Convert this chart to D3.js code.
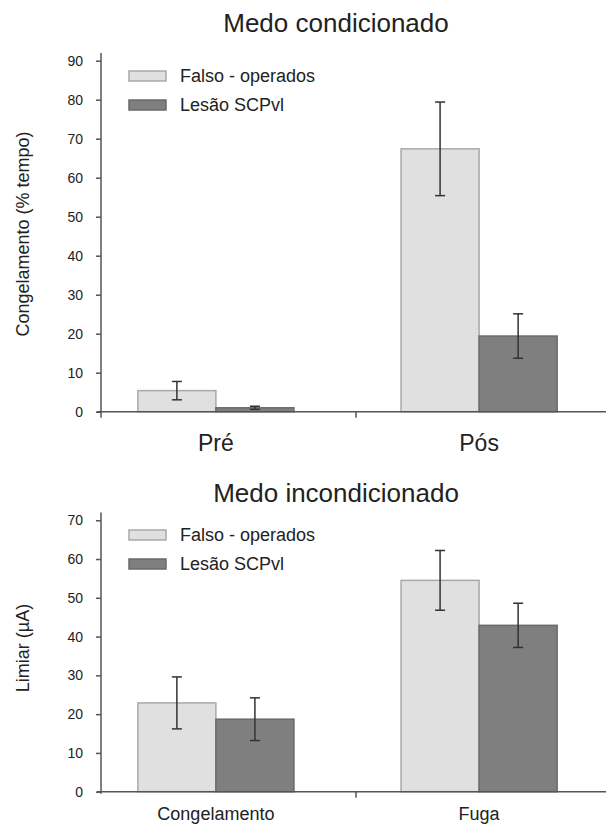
<!DOCTYPE html>
<html>
<head>
<meta charset="utf-8">
<script src="https://cdn.jsdelivr.net/npm/d3@7"></script>
<style>
  body { margin: 0; background: #fff; }
  text { font-family: "Liberation Sans", Arial, sans-serif; fill: #222; }
</style>
</head>
<body>
<div id="chart"></div>
<script>
// series shared by both panels
const seriesNames = ["Falso - operados", "Lesão SCPvl"];
const seriesFill = ["#e0e0e0", "#7f7f7f"];
const seriesStroke = ["#a9a9a9", "#6a6a6a"];

// top panel: conditioned fear
const condCategories = ["Pré", "Pós"];
const condFalso = [5.4, 67.4];
const condFalsoErr = [2.35, 12.0];
const condLesao = [1.0, 19.4];
const condLesaoErr = [0.4, 5.7];
const condTicks = [0, 10, 20, 30, 40, 50, 60, 70, 80, 90];

// bottom panel: unconditioned fear
const incondCategories = ["Congelamento", "Fuga"];
const incondFalso = [22.9, 54.5];
const incondFalsoErr = [6.7, 7.7];
const incondLesao = [18.7, 42.9];
const incondLesaoErr = [5.5, 5.7];
const incondTicks = [0, 10, 20, 30, 40, 50, 60, 70];

const width = 606, height = 825;

const svg = d3.select("#chart")
    .append("svg")
    .attr("width", width)
    .attr("height", height);

function drawPanel(p) {
    const g = svg.append("g");

    const y = d3.scaleLinear()
        .domain([0, p.yMax])
        .range([p.bottom, p.top]);

    // groups
    const x = d3.scaleBand()
        .domain(p.categories)
        .range([101, 594])
        .paddingInner(0.407)
        .paddingOuter(0.14);

    const xs = d3.scaleBand()
        .domain(seriesNames)
        .range([0, x.bandwidth()]);

    const rows = [];
    p.categories.forEach((c, i) => {
        rows.push({ cat: c, s: 0, v: p.falso[i], e: p.falsoErr[i] });
        rows.push({ cat: c, s: 1, v: p.lesao[i], e: p.lesaoErr[i] });
    });

    g.selectAll("rect.bar")
        .data(rows)
        .enter()
        .append("rect")
        .attr("class", "bar")
        .attr("x", d => x(d.cat) + xs(seriesNames[d.s]))
        .attr("y", d => y(d.v))
        .attr("width", xs.bandwidth())
        .attr("height", d => y(0) - y(d.v))
        .attr("fill", d => seriesFill[d.s])
        .attr("stroke", d => seriesStroke[d.s])
        .attr("stroke-width", 1.5);

    // error bars
    const eb = g.selectAll("g.err")
        .data(rows)
        .enter()
        .append("g")
        .attr("class", "err")
        .attr("stroke", "#333")
        .attr("stroke-width", 1.5);
    const cx = d => x(d.cat) + xs(seriesNames[d.s]) + xs.bandwidth() / 2;
    eb.append("line")
        .attr("x1", cx).attr("x2", cx)
        .attr("y1", d => y(d.v + d.e)).attr("y2", d => y(d.v - d.e));
    eb.append("line")
        .attr("x1", d => cx(d) - 5).attr("x2", d => cx(d) + 5)
        .attr("y1", d => y(d.v + d.e)).attr("y2", d => y(d.v + d.e));
    eb.append("line")
        .attr("x1", d => cx(d) - 5).attr("x2", d => cx(d) + 5)
        .attr("y1", d => y(d.v - d.e)).attr("y2", d => y(d.v - d.e));

    // y axis
    const yAxis = g.append("g")
        .attr("transform", "translate(101,0)")
        .call(d3.axisLeft(y).tickValues(p.ticks).tickSize(5).tickPadding(13).tickSizeOuter(0));
    yAxis.select(".domain").attr("stroke", "#555").attr("stroke-width", 1.5)
        .attr("d", `M0,${p.top}V${p.bottom + p.axisDrop}`);
    yAxis.selectAll(".tick line").attr("stroke", "#555").attr("stroke-width", 1.5);
    yAxis.selectAll(".tick text").style("font-size", "14px").attr("fill", "#222");

    // x axis line with the centre divider tick
    const xr = [101, 611];
    g.append("line")
        .attr("x1", 97).attr("x2", xr[1])
        .attr("y1", y(0)).attr("y2", y(0))
        .attr("stroke", "#555").attr("stroke-width", 1.5);
    g.append("line")
        .attr("x1", (xr[0] + xr[1]) / 2).attr("x2", (xr[0] + xr[1]) / 2)
        .attr("y1", y(0)).attr("y2", y(0) + 6)
        .attr("stroke", "#555").attr("stroke-width", 1.5);

    // category labels
    g.selectAll("text.cat")
        .data(p.categories)
        .enter()
        .append("text")
        .attr("class", "cat")
        .attr("x", d => x(d) + x.bandwidth() / 2)
        .attr("y", p.catY)
        .attr("text-anchor", "middle")
        .style("font-size", p.catSize + "px")
        .text(d => d);

    // title
    g.append("text")
        .attr("x", 336)
        .attr("y", p.titleY)
        .attr("text-anchor", "middle")
        .style("font-size", "26px")
        .text(p.title);

    // y label
    g.append("text")
        .attr("transform", `translate(29,${p.ylabelY}) rotate(-90)`)
        .attr("text-anchor", "middle")
        .style("font-size", "18px")
        .text(p.ylabel);

    // legend
    const lg = g.selectAll("g.leg")
        .data(seriesNames)
        .enter()
        .append("g")
        .attr("class", "leg")
        .attr("transform", (d, i) => `translate(129,${p.legendY + i * 29})`);
    lg.append("rect")
        .attr("width", 37).attr("height", 10)
        .attr("fill", (d, i) => seriesFill[i])
        .attr("stroke", (d, i) => seriesStroke[i])
        .attr("stroke-width", 1.5);
    lg.append("text")
        .attr("x", 51).attr("y", 11)
        .style("font-size", "18px")
        .text(d => d);
}

drawPanel({
    title: "Medo condicionado", titleY: 32,
    categories: condCategories, falso: condFalso, falsoErr: condFalsoErr,
    lesao: condLesao, lesaoErr: condLesaoErr,
    ticks: condTicks, yMax: 92, top: 52.9, bottom: 411.7, axisDrop: 6,
    catY: 451, catSize: 23,
    ylabel: "Congelamento (% tempo)", ylabelY: 234,
    legendY: 71
});

drawPanel({
    title: "Medo incondicionado", titleY: 502,
    categories: incondCategories, falso: incondFalso, falsoErr: incondFalsoErr,
    lesao: incondLesao, lesaoErr: incondLesaoErr,
    ticks: incondTicks, yMax: 72, top: 512.5, bottom: 791.7, axisDrop: 2,
    catY: 820, catSize: 18,
    ylabel: "Limiar (µA)", ylabelY: 648,
    legendY: 530
});
</script>
</body>
</html>
